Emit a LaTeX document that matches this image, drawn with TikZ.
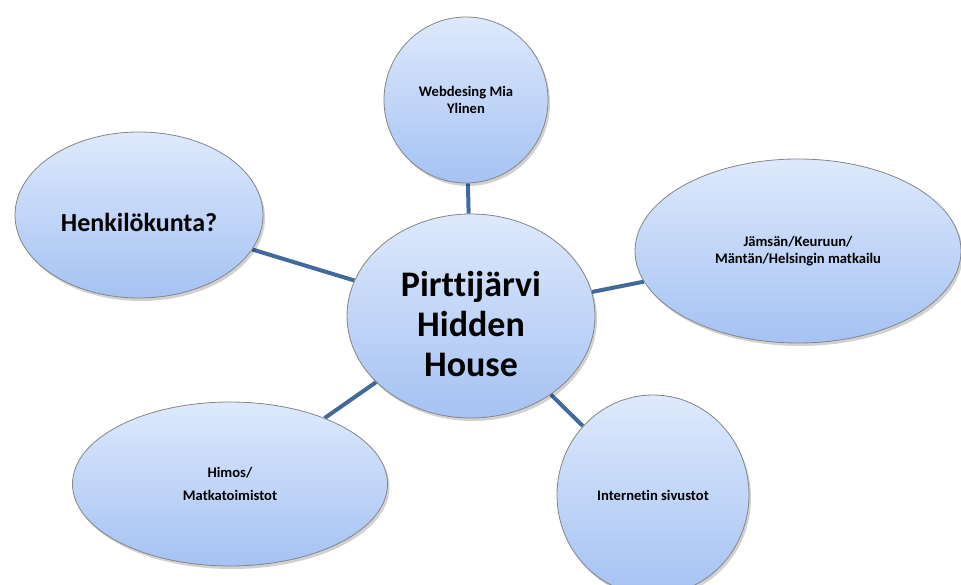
\documentclass[tikz,border=0pt]{standalone}
\usepackage{fontspec}
\setmainfont{Carlito}[Ligatures={NoCommon,NoContextual}]
\usetikzlibrary{shapes.geometric,shadows,backgrounds}
\definecolor{topblue}{HTML}{DEE9FC}
\definecolor{botblue}{HTML}{A5C2F3}
\definecolor{edgegrey}{HTML}{858585}
\definecolor{linkblue}{HTML}{41699B}
\tikzset{
  bubble/.style={ellipse, draw=edgegrey, line width=0.8pt, inner sep=0pt,
    top color=topblue, bottom color=botblue, align=center,
    font=\bfseries\fontsize{14.6}{17}\selectfont,
    drop shadow={shadow xshift=2pt, shadow yshift=-3pt, opacity=0.18, fill=black}},
  link/.style={draw=linkblue, line width=4pt},
  bigtext/.style={align=center, font=\bfseries\fontsize{36}{40}\selectfont},
  midtext/.style={align=center, font=\bfseries\fontsize{26}{30}\selectfont}
}
\begin{document}
\begin{tikzpicture}[x=1pt,y=-1pt]
\useasboundingbox (0,0) rectangle (961,585);
\node[bubble, minimum width=164pt, minimum height=166pt] (web) at (466,100) {Webdesing Mia\\Ylinen};
\node[bubble, minimum width=248pt, minimum height=204pt] (hub) at (471,316) {};
\node[bigtext] (hubtext) at ([yshift=-8pt]hub.center) {Pirttijärvi\\Hidden\\House};
\node[bubble, minimum width=326pt, minimum height=184pt] (jam) at (798,251) {Jämsän/Keuruun/\\Mäntän/Helsingin matkailu};
\node[bubble, minimum width=192pt, minimum height=200pt] (net) at (653,495) {Internetin sivustot};
\node[bubble, minimum width=315pt, minimum height=164pt, font=\bfseries\fontsize{14.6}{23}\selectfont] (him) at (230,484) {Himos/\\Matkatoimistot};
\node[bubble, minimum width=248pt, minimum height=166pt] (hen) at (139,215) {};
\node[midtext] (hentext) at ([yshift=-7pt]hen.center) {Henkilökunta?};
\begin{pgfonlayer}{background}
\draw[link] (hub) -- (web);
\draw[link] (hub) -- (hen);
\draw[link] (hub) -- (jam);
\draw[link] (hub) -- (him);
\draw[link] (hub) -- (net);
\end{pgfonlayer}
\end{tikzpicture}
\end{document}
